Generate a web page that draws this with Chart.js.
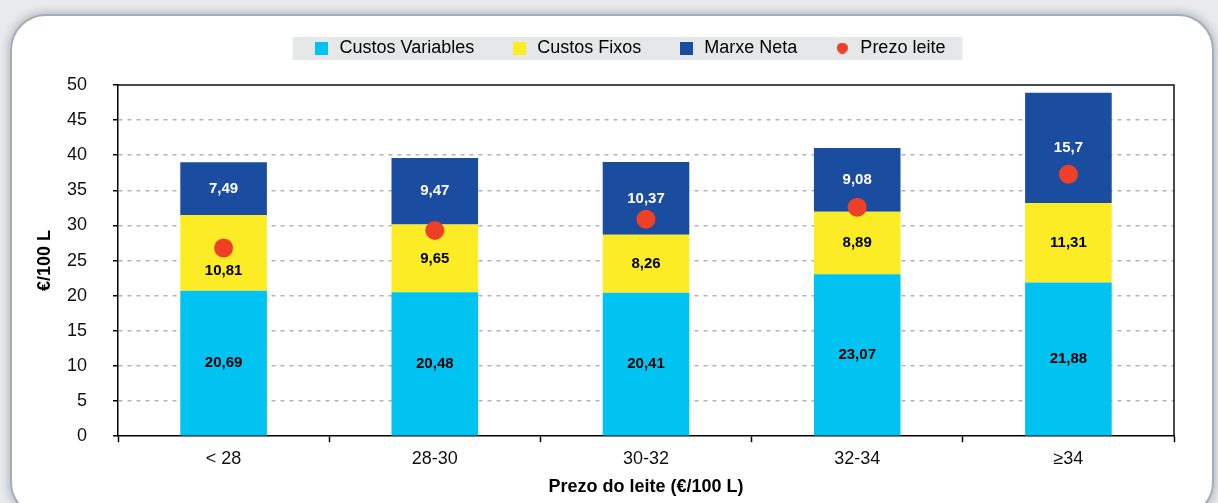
<!DOCTYPE html>
<html>
<head>
<meta charset="utf-8">
<script src="https://cdn.jsdelivr.net/npm/chart.js@4"></script>
<style>
	body { margin: 0; background: #e8eaed; width: 1218px; height: 503px; overflow: hidden; position: relative; }
	.panel {
		position: absolute; left: 10px; top: 14px; width: 1200px; height: 500px;
		border: 2px solid #a3aebb; border-radius: 36px; background: #fff;
		box-shadow: 0 0 7px 3px rgba(95, 105, 120, 0.3);
	}
	#chart { position: absolute; left: 0; top: 0; }
</style>
</head>
<body>
<div class="panel"></div>
<canvas id="chart" width="1218" height="503"></canvas>
<script>
// datos
const categories = ["< 28", "28-30", "30-32", "32-34", "≥34"];
const custosVariables = [20.69, 20.48, 20.41, 23.07, 21.88];
const custosFixos = [10.81, 9.65, 8.26, 8.89, 11.31];
const marxeNeta = [7.49, 9.47, 10.37, 9.08, 15.7];
const prezoLeite = [26.8, 29.3, 30.9, 32.6, 37.3];

const CYAN = "#00c3f1";
const YELLOW = "#fcec26";
const BLUE = "#1a4c9f";
const RED = "#ee4027";
const FONT = '"Liberation Sans", Arial, sans-serif';

function swatch(color, round, size) {
	const c = document.createElement("canvas");
	c.width = size;
	c.height = size;
	const g = c.getContext("2d");
	g.fillStyle = color;
	if (round) {
		g.beginPath();
		g.arc(size / 2, size / 2, size / 2, 0, Math.PI * 2);
		g.fill();
	} else {
		g.fillRect(0, 0, size, size);
	}
	return c;
}

// lenda con fondo gris
const legendBox = {
	id: "legendBox",
	beforeLayout(chart) {
		const lg = chart.legend;
		if (lg && !lg._patched) {
			const fit = lg.fit;
			lg.fit = function () {
				fit.call(this);
				this.height += 18;
			};
			lg._patched = true;
		}
	},
	afterLayout(chart) {
		chart.legend.left += 27;
		chart.legend.right += 27;
	},
	beforeDraw(chart) {
		const boxes = chart.legend.legendHitBoxes;
		if (!boxes || !boxes.length) return;
		const first = boxes[0];
		const last = boxes[boxes.length - 1];
		const ctx = chart.ctx;
		ctx.save();
		ctx.fillStyle = "#e6e7e9";
		ctx.fillRect(first.left - 20, first.top - 2, last.left + last.width + 17 - (first.left - 20), first.height + 5);
		ctx.restore();
	}
};

// marco superior e dereito
const plotFrame = {
	id: "plotFrame",
	afterDraw(chart) {
		const { ctx, chartArea: { left, right, top, bottom } } = chart;
		ctx.save();
		ctx.strokeStyle = "#111";
		ctx.lineWidth = 1.5;
		ctx.beginPath();
		ctx.moveTo(left, top);
		ctx.lineTo(right, top);
		ctx.lineTo(right, bottom);
		ctx.stroke();
		ctx.restore();
	}
};

// etiquetas dos valores
const barLabels = {
	id: "barLabels",
	afterDatasetsDraw(chart) {
		const ctx = chart.ctx;
		const pts = chart.getDatasetMeta(3).data;
		ctx.save();
		ctx.font = "bold 15px " + FONT;
		ctx.textAlign = "center";
		ctx.textBaseline = "middle";
		[0, 1, 2].forEach((di) => {
			const ds = chart.data.datasets[di];
			chart.getDatasetMeta(di).data.forEach((bar, i) => {
				let y = (bar.y + bar.base) / 2;
				const p = pts[i];
				if (p && Math.abs(y - p.y) < 14) y = p.y + 23;
				ctx.fillStyle = di === 2 ? "#fff" : "#000";
				ctx.fillText(String(ds.data[i]).replace(".", ","), bar.x, y);
			});
		});
		ctx.restore();
	}
};

const ctx = document.getElementById("chart").getContext("2d");
const config = {
	type: "bar",
	data: {
		labels: categories,
		datasets: [
			{ label: "Custos Variables", data: custosVariables, backgroundColor: CYAN, order: 1 },
			{ label: "Custos Fixos", data: custosFixos, backgroundColor: YELLOW, order: 1 },
			{ label: "Marxe Neta", data: marxeNeta, backgroundColor: BLUE, order: 1 },
			{
				type: "line",
				label: "Prezo leite",
				data: prezoLeite,
				showLine: false,
				pointRadius: 9.5,
				pointHoverRadius: 9.5,
				pointBackgroundColor: RED,
				pointBorderWidth: 0,
				backgroundColor: RED,
				order: 0
			}
		]
	},
	options: {
		responsive: false,
		animation: false,
		layout: { padding: { left: 30, right: 44, top: 3, bottom: 1 } },
		datasets: {
			bar: { categoryPercentage: 1, barPercentage: 0.41, borderWidth: 0 }
		},
		plugins: {
			tooltip: { enabled: false },
			legend: {
				position: "top",
				labels: {
					font: { family: FONT, size: 18 },
					color: "#111",
					usePointStyle: true,
					boxWidth: 20,
					padding: 36,
					generateLabels(chart) {
						return chart.data.datasets.map((ds, i) => ({
							text: ds.label,
							pointStyle: swatch(ds.backgroundColor, i === 3, i === 3 ? 11 : 13),
							fillStyle: ds.backgroundColor,
							strokeStyle: ds.backgroundColor,
							lineWidth: 0,
							hidden: false,
							datasetIndex: i
						}));
					}
				}
			}
		},
		scales: {
			x: {
				stacked: true,
				afterFit(scale) {
					scale.height = 65.8;
				},
				grid: {
					display: true,
					offset: true,
					drawOnChartArea: false,
					drawTicks: true,
					tickLength: 6,
					tickColor: "#000",
					tickWidth: 1.5
				},
				border: { display: true, color: "#000", width: 1.5 },
				ticks: { font: { family: FONT, size: 18 }, color: "#111", padding: 6 },
				title: {
					display: true,
					text: "Prezo do leite (€/100 L)",
					font: { family: FONT, size: 18, weight: "bold" },
					color: "#000",
					padding: { top: 6.6, bottom: 4 }
				}
			},
			y: {
				stacked: true,
				min: 0,
				max: 50,
				afterFit(scale) {
					scale.width = 88;
				},
				grid: {
					color: (c) => (c.tick && (c.tick.value === 0 || c.tick.value === 50) ? "rgba(0,0,0,0)" : "#b3b3b3"),
					lineWidth: 1.5,
					tickColor: "#000",
					tickWidth: 1.5,
					tickLength: 5,
					tickBorderDash: [1, 0]
				},
				border: { display: true, color: "#000", width: 1.5, dash: [4, 5] },
				ticks: { stepSize: 5, font: { family: FONT, size: 18 }, color: "#111", padding: 26 },
				title: {
					display: true,
					text: "€/100 L",
					font: { family: FONT, size: 18, weight: "bold" },
					color: "#000",
					padding: { top: 4, bottom: 11.4 }
				}
			}
		}
	},
	plugins: [legendBox, plotFrame, barLabels]
};

const myChart = new Chart(ctx, config);
</script>
</body>
</html>
